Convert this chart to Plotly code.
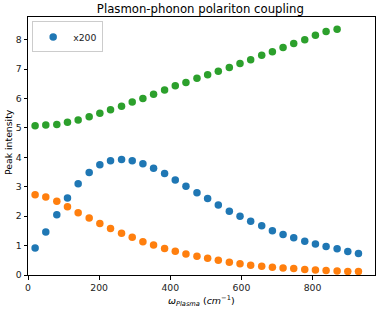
import plotly.graph_objects as go

x_blue = [20, 50, 81, 111, 141, 172, 202, 232, 263, 293, 323, 353, 384, 414, 444, 475,
          505, 535, 566, 596, 626, 657, 687, 717, 747, 778, 808, 838, 869, 899, 929]
y_blue = [0.92, 1.46, 2.05, 2.62, 3.10, 3.48, 3.75, 3.88, 3.93, 3.88, 3.78, 3.63, 3.45,
          3.23, 3.02, 2.80, 2.60, 2.38, 2.17, 2.00, 1.83, 1.67, 1.50, 1.38, 1.27, 1.15,
          1.05, 0.97, 0.89, 0.80, 0.73]
y_orange = [2.73, 2.65, 2.51, 2.32, 2.12, 1.94, 1.75, 1.58, 1.42, 1.28, 1.13, 1.02, 0.90,
            0.81, 0.71, 0.64, 0.57, 0.50, 0.43, 0.38, 0.33, 0.30, 0.26, 0.24, 0.22, 0.19,
            0.17, 0.15, 0.14, 0.12, 0.12]
x_green = x_blue[:29]
y_green = [5.07, 5.10, 5.12, 5.19, 5.27, 5.38, 5.50, 5.62, 5.74, 5.88, 6.00, 6.14, 6.29,
           6.43, 6.54, 6.69, 6.81, 6.93, 7.05, 7.19, 7.32, 7.47, 7.59, 7.73, 7.87, 8.00,
           8.15, 8.28, 8.35]

x_ticks = [0, 200, 400, 600, 800]
y_ticks = [0, 1, 2, 3, 4, 5, 6, 7, 8]

font = "DejaVu Sans"
ms = 7.5

W, H = 378, 309
l, r, t, b = 28, 3, 17, 34
pw, ph = W - l - r, H - t - b

def px_to_paper(px, py):
    return (px - l) / pw, (H - b - py) / ph

fig = go.Figure()
fig.add_trace(go.Scatter(x=x_blue, y=y_blue, mode="markers", name="x200",
                         marker=dict(color="#1f77b4", size=ms)))
fig.add_trace(go.Scatter(x=x_blue, y=y_orange, mode="markers", showlegend=False,
                         marker=dict(color="#ff7f0e", size=ms)))
fig.add_trace(go.Scatter(x=x_green, y=y_green, mode="markers", showlegend=False,
                         marker=dict(color="#2ca02c", size=ms)))

axis_common = dict(showgrid=False, zeroline=False, showline=True, linecolor="black",
                   linewidth=1, mirror=True, ticks="outside", ticklen=3.5, tickwidth=1,
                   tickcolor="black", automargin=False,
                   tickfont=dict(family=font, size=9.3, color="#222222"))

xl_x, xl_y = px_to_paper(201, 301)
yl_x, yl_y = px_to_paper(8, 142)

fig.update_layout(
    width=W, height=H,
    margin=dict(l=l, r=r, t=t, b=b, autoexpand=False),
    paper_bgcolor="white", plot_bgcolor="white",
    title=dict(text="Plasmon-phonon polariton coupling", x=0.53, xanchor="center",
               y=0.985, yanchor="top", font=dict(family=font, size=11.7, color="black")),
    xaxis=dict(range=[0, 975.5], tickvals=x_ticks, **axis_common),
    yaxis=dict(range=[0, 8.77], tickvals=y_ticks, **axis_common),
    legend=dict(x=0.012, y=0.983, xanchor="left", yanchor="top",
                bgcolor="rgba(255,255,255,0.8)", bordercolor="#cccccc", borderwidth=1,
                itemwidth=30, tracegroupgap=0,
                font=dict(family=font, size=9.3, color="#222222")),
    annotations=[
        dict(text="<i>ω</i><sub><i>Plasma</i></sub> (<i>cm</i><sup>−1</sup>)",
             x=xl_x, y=xl_y, xref="paper", yref="paper", showarrow=False,
             xanchor="center", yanchor="middle",
             font=dict(family=font, size=9.5, color="black")),
        dict(text="Peak intensity", textangle=-90, x=yl_x, y=yl_y,
             xref="paper", yref="paper", showarrow=False,
             xanchor="center", yanchor="middle",
             font=dict(family=font, size=9.3, color="black")),
    ],
)

fig.write_html("out.html", config={"displayModeBar": False},
               post_script="document.body.style.margin='0';document.body.style.padding='0';")
